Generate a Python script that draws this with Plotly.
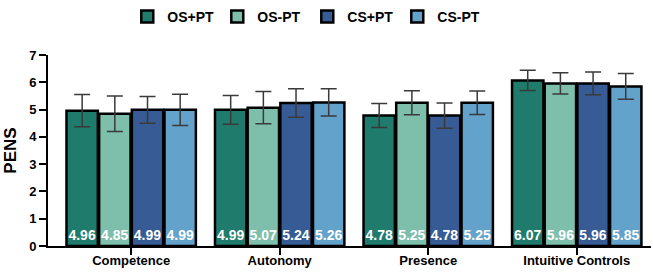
import plotly.graph_objects as go

categories = ["Competence", "Autonomy", "Presence", "Intuitive Controls"]
series_names = ["OS+PT", "OS-PT", "CS+PT", "CS-PT"]
os_pt_plus = [4.96, 4.99, 4.78, 6.07]
os_pt_minus = [4.85, 5.07, 5.25, 5.96]
cs_pt_plus = [4.99, 5.24, 4.78, 5.96]
cs_pt_minus = [4.99, 5.26, 5.25, 5.85]
err_os_pt_plus = [0.59, 0.53, 0.44, 0.37]
err_os_pt_minus = [0.65, 0.59, 0.44, 0.39]
err_cs_pt_plus = [0.49, 0.52, 0.46, 0.42]
err_cs_pt_minus = [0.57, 0.50, 0.43, 0.47]
y_ticks = [0, 1, 2, 3, 4, 5, 6, 7]

values = [os_pt_plus, os_pt_minus, cs_pt_plus, cs_pt_minus]
errors = [err_os_pt_plus, err_os_pt_minus, err_cs_pt_plus, err_cs_pt_minus]
colors = ["#1f7b6b", "#7dbfab", "#365b95", "#63a3cb"]

FONT = "Arial, Liberation Sans, sans-serif"

fig = go.Figure()
for name, vals, errs, col in zip(series_names, values, errors, colors):
    fig.add_trace(go.Bar(
        name=name, x=categories, y=vals,
        marker=dict(color=col, line=dict(color="black", width=2.5)),
        error_y=dict(type="data", array=errs, visible=True, color="#3a3a3a",
                     thickness=1.5, width=8),
        text=[f"{v:.2f}" for v in vals],
        textposition="inside", insidetextanchor="start", textangle=0,
        textfont=dict(color="white", size=14, family=FONT, weight="bold"),
    ))

fig.update_layout(
    width=653, height=273,
    margin=dict(l=48, r=2, t=55, b=27, autoexpand=False),
    barmode="group", bargap=0.12, bargroupgap=0.04,
    plot_bgcolor="white", paper_bgcolor="white",
    font=dict(family=FONT, color="black", size=13),
    uniformtext=dict(minsize=14, mode="show"),
    legend=dict(orientation="h", x=0.43, xanchor="center", y=1.2, yanchor="middle",
                font=dict(size=14, family=FONT, weight="bold"),
                itemwidth=30, entrywidth=45, traceorder="normal"),
    showlegend=True,
)
fig.update_xaxes(
    range=[-0.56, 3.5], showline=True, linecolor="black", linewidth=2,
    ticks="outside", ticklen=7, tickwidth=2, tickcolor="black", automargin=False,
    ticklabelstandoff=-6,
    tickfont=dict(size=13, family=FONT, weight="bold"), showgrid=False,
)
fig.update_yaxes(
    range=[0, 7], tickvals=y_ticks, showline=True, linecolor="black", linewidth=2,
    ticks="outside", ticklen=7, tickwidth=2, tickcolor="black", automargin=False,
    tickfont=dict(size=13, family=FONT, weight="bold"), showgrid=False, zeroline=False,
    title=dict(text="PENS", font=dict(size=17, family=FONT, weight="bold"), standoff=8),
)

fig.write_html("out.html", config={"displayModeBar": False},
               post_script="document.body.style.margin='0';")
